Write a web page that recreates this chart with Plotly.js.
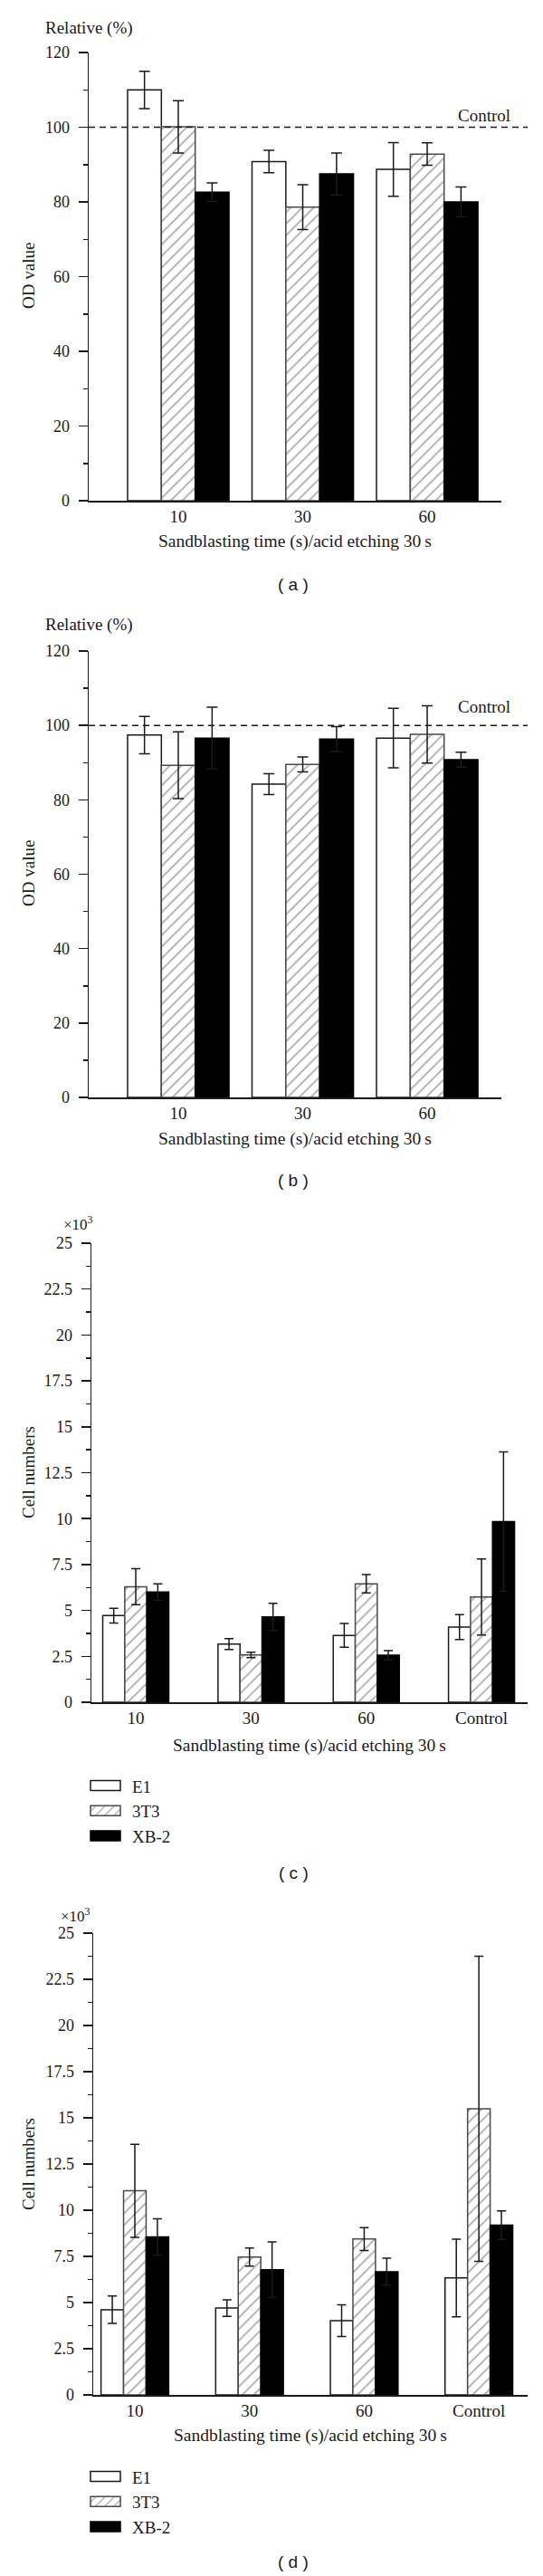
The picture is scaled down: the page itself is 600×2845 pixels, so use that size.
<!DOCTYPE html>
<html>
<head>
<meta charset="utf-8">
<script src="https://cdn.plot.ly/plotly-3.0.1.min.js"></script>
<style>
  body { margin: 0; background: #fff; }
  .panel { position: absolute; left: 0; width: 600px; }
</style>
</head>
<body>
<div id="pa" class="panel" style="top:0px;height:660px"></div>
<div id="pb" class="panel" style="top:660px;height:660px"></div>
<div id="pc" class="panel" style="top:1320px;height:765px"></div>
<div id="pd" class="panel" style="top:2085px;height:760px"></div>
<script>
// OD value (relative %) panels (a) and (b)
var odCats = ['10', '30', '60'];
var controlLevel = 100;

var aE1 = [110, 90.8, 88.7];
var aE1Err = [5, 3, 7.2];
var a3T3 = [100.1, 78.6, 92.8];
var a3T3Err = [7, 6, 3];
var aXB2 = [82.6, 87.5, 80];
var aXB2Err = [2.5, 5.6, 4];

var bE1 = [97.4, 84.2, 96.6];
var bE1Err = [5, 2.8, 8];
var b3T3 = [89.3, 89.5, 97.6];
var b3T3Err = [9, 2, 7.7];
var bXB2 = [96.6, 96.3, 90.8];
var bXB2Err = [8.3, 3.4, 2];

// cell numbers (x10^3) panels (c) and (d)
var cellCats = ['10', '30', '60', 'Control'];

var cE1 = [4.72, 3.17, 3.64, 4.09];
var cE1Err = [0.4, 0.3, 0.65, 0.68];
var c3T3 = [6.29, 2.58, 6.45, 5.73];
var c3T3Err = [0.98, 0.15, 0.5, 2.07];
var cXB2 = [6.0, 4.65, 2.56, 9.84];
var cXB2Err = [0.45, 0.74, 0.25, 3.8];

var dE1 = [4.61, 4.70, 4.02, 6.33];
var dE1Err = [0.74, 0.45, 0.86, 2.1];
var d3T3 = [11.05, 7.46, 8.44, 15.49];
var d3T3Err = [2.52, 0.49, 0.62, 8.26];
var dXB2 = [8.55, 6.78, 6.67, 9.19];
var dXB2Err = [0.98, 1.5, 0.73, 0.77];

var seriesNames = ['E1', '3T3', 'XB-2'];

var SERIF = '"Liberation Serif", "Times New Roman", serif';
var SANS = '"Liberation Sans", Arial, sans-serif';
var INK = '#1a1a1a';

function barTrace(name, cats, vals, errs, capw) {
    var t = {
        type: 'bar',
        name: name,
        x: cats,
        y: vals,
        marker: { color: '#ffffff', line: { color: INK, width: 1.5 } },
        error_y: { type: 'data', array: errs, visible: true, color: INK, thickness: 1.5, width: capw },
        hoverinfo: 'skip'
    };
    if (name == '3T3') {
        t.marker.line.color = '#4a4a4a';
        t.marker.pattern = { shape: '/', fgcolor: '#a9a9a9', bgcolor: '#ffffff', size: 9, solidity: 0.18 };
    }
    if (name == 'XB-2') {
        t.marker.color = '#000000';
        t.marker.line.color = '#000000';
    }
    return t;
}

// move the legend so its text lands where the figure has it,
// then stretch the square swatches into the wide boxes of the original
function fitLegend(gd, spec) {
    var lg = spec.legend;
    var box = gd.getBoundingClientRect();
    var first = gd.querySelector('.legendtext').getBoundingClientRect();
    var dx = lg.textX - (first.left - box.left);
    var dy = (lg.firstY - spec.top) - (first.top + first.height / 2 - box.top);
    var fl = gd._fullLayout.legend;
    return Plotly.relayout(gd, {
        'legend.x': fl.x + dx / (spec.right - spec.left),
        'legend.y': fl.y - dy / (spec.zeroY - spec.topY)
    }).then(function() {
        gd.querySelectorAll('.legend [clip-path]').forEach(function(el) { el.removeAttribute('clip-path'); });
        var items = gd.querySelectorAll('.legend .traces');
        items.forEach(function(item) {
            var txt = item.querySelector('.legendtext').getBoundingClientRect();
            var paths = item.querySelectorAll('.legendpoints path');
            if (!paths.length) return;
            var r = paths[0].getBoundingClientRect();
            var cx = r.left + r.width / 2;
            var x1 = (txt.left - lg.gap) - cx;
            var x0 = x1 - lg.boxW;
            var h = lg.boxH / 2;
            var d = 'M' + x1 + ',' + h + 'H' + x0 + 'V' + (-h) + 'H' + x1 + 'Z';
            paths.forEach(function(p) { p.setAttribute('d', d); });
        });
    });
}

function drawPanel(id, spec) {
    var left = spec.left, right = spec.right, zeroY = spec.zeroY, topY = spec.topY;
    var fx = function(x) { return (x - left) / (right - left); };
    var fy = function(y) { return (zeroY - y) / (zeroY - topY); };

    var traces = [
        barTrace(seriesNames[0], spec.cats, spec.e1, spec.e1Err, spec.capw),
        barTrace(seriesNames[1], spec.cats, spec.t3, spec.t3Err, spec.capw),
        barTrace(seriesNames[2], spec.cats, spec.xb, spec.xbErr, spec.capw)
    ];

    var annotations = [];
    function note(text, x, y, extra) {
        var a = {
            text: text, xref: 'paper', yref: 'paper', x: fx(x), y: fy(y),
            showarrow: false, xanchor: 'center', yanchor: 'middle',
            font: { family: SERIF, size: 19, color: INK }
        };
        for (var k in extra) a[k] = extra[k];
        annotations.push(a);
    }
    note('Sandblasting time (s)/acid etching 30\u2009s', (left + right) / 2, spec.xTitleY,
         { font: { family: SERIF, size: 19.5, color: INK } });
    note(spec.yTitle, 31, spec.yTitleY, { textangle: -90 });
    note(spec.tag, spec.tagX, spec.tagY, { font: { family: SANS, size: 19, color: INK } });
    if (spec.relY) note('Relative (%)', 48, spec.relY, { xanchor: 'left' });
    if (spec.expY) note('\u00d710<sup>3</sup>', spec.expX, spec.expY, { font: { family: SERIF, size: 17, color: INK } });
    if (spec.ctrlY) note('Control', 566, spec.ctrlY, { xanchor: 'right' });

    var shapes = [];
    if (spec.ctrlY) {
        shapes.push({
            type: 'line', xref: 'paper', yref: 'y',
            x0: 0, x1: fx(583), y0: controlLevel, y1: controlLevel,
            line: { color: INK, width: 1.5, dash: '7px,5px' }
        });
    }

    var layout = {
        width: 600,
        height: spec.height,
        margin: { l: left, r: 600 - right, t: topY - spec.top, b: spec.top + spec.height - zeroY, pad: 0 },
        paper_bgcolor: '#ffffff',
        plot_bgcolor: '#ffffff',
        barmode: 'group',
        bargap: spec.bargap,
        bargroupgap: 0,
        showlegend: !!spec.legend,
        xaxis: {
            type: 'category',
            range: spec.xrange,
            showline: true, linecolor: INK, linewidth: 1.5,
            ticks: '', showgrid: false, zeroline: false,
            tickfont: { family: SERIF, size: 19, color: INK },
            fixedrange: true
        },
        yaxis: {
            range: spec.yrange,
            dtick: spec.dtick,
            showline: true, linecolor: INK, linewidth: 1.5,
            ticks: 'outside', ticklen: 10, tickwidth: 1.5, tickcolor: INK,
            minor: { ticks: 'outside', ticklen: 5, tickwidth: 1.5, tickcolor: INK, dtick: spec.dtick / 2, showgrid: false },
            ticklabelstandoff: 6,
            showgrid: false, zeroline: false,
            tickfont: { family: SERIF, size: 18, color: INK },
            fixedrange: true
        },
        annotations: annotations,
        shapes: shapes
    };
    if (spec.legend) {
        layout.legend = {
            x: fx(spec.legend.textX - 50), y: fy(spec.legend.firstY - 14),
            xanchor: 'left', yanchor: 'top',
            orientation: 'v', traceorder: 'normal',
            itemwidth: 40,
            bgcolor: 'rgba(0,0,0,0)', borderwidth: 0,
            font: { family: SERIF, size: 19, color: INK }
        };
    }
    return Plotly.newPlot(id, traces, layout, { staticPlot: true, displayModeBar: false }).then(function(gd) {
        if (spec.legend) return fitLegend(gd, spec);
    });
}

drawPanel('pa', {
    top: 0, height: 660, left: 98, right: 554, topY: 58, zeroY: 553,
    cats: odCats, xrange: [-0.72, 2.596], bargap: 0.185, capw: 6,
    yrange: [0, 120], dtick: 20,
    e1: aE1, e1Err: aE1Err, t3: a3T3, t3Err: a3T3Err, xb: aXB2, xbErr: aXB2Err,
    yTitle: 'OD value', yTitleY: 305, xTitleY: 598,
    tag: '( a )', tagX: 324, tagY: 645,
    relY: 31, ctrlY: 127
});

drawPanel('pb', {
    top: 660, height: 660, left: 98, right: 554, topY: 719, zeroY: 1212,
    cats: odCats, xrange: [-0.72, 2.596], bargap: 0.185, capw: 6,
    yrange: [0, 120], dtick: 20,
    e1: bE1, e1Err: bE1Err, t3: b3T3, t3Err: b3T3Err, xb: bXB2, xbErr: bXB2Err,
    yTitle: 'OD value', yTitleY: 965, xTitleY: 1258,
    tag: '( b )', tagX: 324, tagY: 1303,
    relY: 690, ctrlY: 780
});

drawPanel('pc', {
    top: 1320, height: 765, left: 101, right: 583, topY: 1373, zeroY: 1880,
    cats: cellCats, xrange: [-0.385, 3.40], bargap: 0.427, capw: 5,
    yrange: [0, 25], dtick: 2.5,
    e1: cE1, e1Err: cE1Err, t3: c3T3, t3Err: c3T3Err, xb: cXB2, xbErr: cXB2Err,
    yTitle: 'Cell numbers', yTitleY: 1626, xTitleY: 1928,
    tag: '( c )', tagX: 324, tagY: 2068,
    expX: 86, expY: 1351,
    legend: { textX: 146, firstY: 1973, gap: 13, boxW: 33, boxH: 11 }
});

drawPanel('pd', {
    top: 2085, height: 760, left: 103, right: 583, topY: 2135, zeroY: 2645,
    cats: cellCats, xrange: [-0.363, 3.425], bargap: 0.41, capw: 5,
    yrange: [0, 25], dtick: 2.5,
    e1: dE1, e1Err: dE1Err, t3: d3T3, t3Err: d3T3Err, xb: dXB2, xbErr: dXB2Err,
    yTitle: 'Cell numbers', yTitleY: 2390, xTitleY: 2690,
    tag: '( d )', tagX: 324, tagY: 2829,
    expX: 83, expY: 2115,
    legend: { textX: 146, firstY: 2736, gap: 13, boxW: 33, boxH: 11 }
});
</script>
</body>
</html>
